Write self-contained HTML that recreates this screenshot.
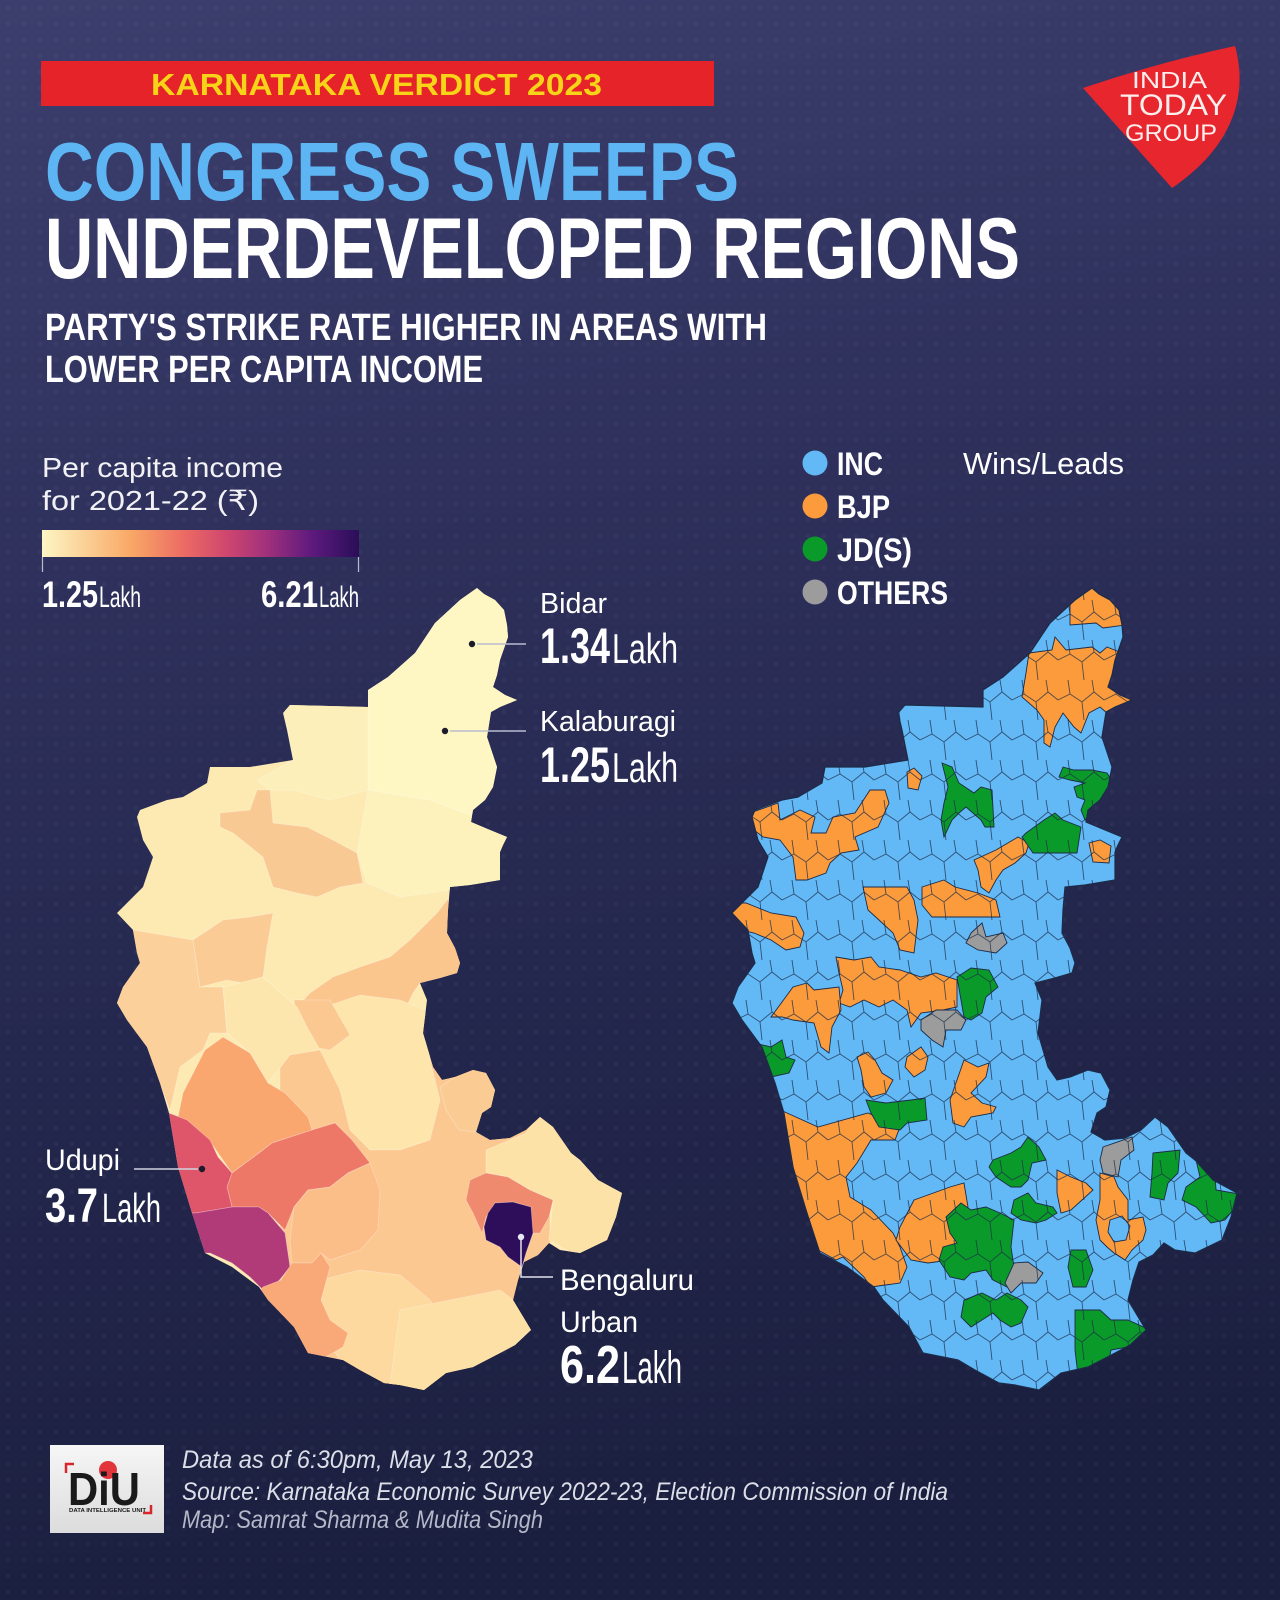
<!DOCTYPE html>
<html><head><meta charset="utf-8"><style>
html,body{margin:0;padding:0;background:#262851;}
svg{display:block;}
text{font-family:"Liberation Sans","DejaVu Sans",sans-serif;}
</style></head><body>
<svg width="1280" height="1600" viewBox="0 0 1280 1600" xmlns="http://www.w3.org/2000/svg">
<defs>
<linearGradient id="bg" x1="0" y1="0" x2="0.15" y2="1">
<stop offset="0" stop-color="#3c3e6d"/><stop offset="0.3" stop-color="#31335f"/><stop offset="0.6" stop-color="#262950"/><stop offset="1" stop-color="#1b1f3f"/>
</linearGradient>
<linearGradient id="scale" x1="0" y1="0" x2="1" y2="0">
<stop offset="0" stop-color="#fdf6c4"/><stop offset="0.28" stop-color="#f9a866"/><stop offset="0.45" stop-color="#ec6a64"/><stop offset="0.58" stop-color="#d0476e"/><stop offset="0.7" stop-color="#a5327c"/><stop offset="0.85" stop-color="#5e1a7e"/><stop offset="1" stop-color="#2a0e58"/>
</linearGradient>
<linearGradient id="diu" x1="0" y1="0" x2="0" y2="1"><stop offset="0" stop-color="#f6f6f6"/><stop offset="1" stop-color="#dcdcdc"/></linearGradient>
<pattern id="dots" width="16" height="16" patternUnits="userSpaceOnUse"><circle cx="8" cy="8" r="2.2" fill="#ffffff" fill-opacity="0.035"/></pattern>
<pattern id="mesh" width="46" height="40" patternUnits="userSpaceOnUse">
<path d="M0,20 L12,14 L24,22 L36,12 L46,20 M12,14 L10,0 M24,22 L26,40 M36,12 L34,0" fill="none" stroke="#1c2b48" stroke-width="0.9"/>
</pattern>
<path id="kout" d="M477,588 L484,594 L495,600 L504,610 L507,625 L508,637 L500,660 L497,675 L493,687 L505,695 L517,700 L500,707 L491,712 L487,737 L493,755 L497,767 L493,787 L485,800 L473,810 L471,822 L490,830 L507,837 L503,845 L500,852 L500,880 L470,885 L450,887 L448,910 L447,933 L455,948 L460,963 L457,973 L440,978 L420,983 L427,1000 L423,1033 L428,1050 L433,1067 L442,1080 L455,1077 L473,1070 L486,1073 L495,1090 L491,1107 L482,1113 L476,1132 L490,1140 L510,1138 L526,1130 L540,1117 L553,1127 L571,1153 L580,1160 L598,1180 L622,1193 L616,1217 L607,1240 L580,1253 L560,1250 L549,1243 L538,1255 L524,1262 L518,1280 L513,1300 L531,1330 L515,1345 L500,1353 L473,1367 L446,1373 L424,1390 L400,1385 L384,1383 L360,1370 L343,1360 L308,1353 L294,1327 L268,1300 L259,1287 L232,1267 L205,1253 L192,1213 L178,1167 L169,1113 L160,1083 L147,1047 L127,1020 L117,1003 L123,987 L140,963 L137,953 L133,930 L117,913 L127,903 L143,887 L153,857 L143,840 L137,817 L140,810 L167,800 L183,797 L207,783 L210,767 L250,767 L293,760 L287,730 L283,713 L290,705 L368,707 L368,690 L388,677 L415,653 L435,623 L460,600 Z"/>
<clipPath id="lclip"><use href="#kout"/></clipPath>
<clipPath id="rclip"><use href="#kout" transform="translate(615,0)"/></clipPath>
</defs>

<rect width="1280" height="1600" fill="url(#bg)"/>
<rect width="1280" height="1600" fill="url(#dots)"/>

<!-- Header -->
<rect x="41" y="61" width="673" height="45" fill="#e62329"/>
<text x="151" y="95" font-size="31" font-weight="bold" fill="#f7d417" textLength="451" lengthAdjust="spacingAndGlyphs">KARNATAKA VERDICT 2023</text>
<text x="45" y="200" font-size="83" font-weight="bold" fill="#5db5f3" textLength="694" lengthAdjust="spacingAndGlyphs">CONGRESS SWEEPS</text>
<text x="45" y="278" font-size="86" font-weight="bold" fill="#ffffff" textLength="975" lengthAdjust="spacingAndGlyphs">UNDERDEVELOPED REGIONS</text>
<text x="45" y="340" font-size="38" font-weight="bold" fill="#ffffff" textLength="722" lengthAdjust="spacingAndGlyphs">PARTY'S STRIKE RATE HIGHER IN AREAS WITH</text>
<text x="45" y="382" font-size="38" font-weight="bold" fill="#ffffff" textLength="438" lengthAdjust="spacingAndGlyphs">LOWER PER CAPITA INCOME</text>

<!-- Logo -->
<path d="M1083,88 Q1160,62 1235,46 C1250,100 1228,150 1172,188 Z" fill="#e8262d"/>
<text x="1132" y="88" font-size="23" fill="#fdeeee" textLength="75" lengthAdjust="spacingAndGlyphs">INDIA</text>
<text x="1120" y="115" font-size="30" fill="#fdeeee" textLength="107" lengthAdjust="spacingAndGlyphs">TODAY</text>
<text x="1125" y="141" font-size="24" fill="#fdeeee" textLength="92" lengthAdjust="spacingAndGlyphs">GROUP</text>

<!-- Left legend -->
<text x="42" y="477" font-size="28" fill="#f2f2f6" textLength="241" lengthAdjust="spacingAndGlyphs">Per capita income</text>
<text x="42" y="510" font-size="28" fill="#f2f2f6" textLength="217" lengthAdjust="spacingAndGlyphs">for 2021-22 (₹)</text>
<rect x="42" y="530" width="317" height="27" fill="url(#scale)"/>
<line x1="42.5" y1="557" x2="42.5" y2="572" stroke="#b8bccf" stroke-width="1.2"/>
<line x1="358.5" y1="557" x2="358.5" y2="572" stroke="#b8bccf" stroke-width="1.2"/>
<text x="42" y="607" font-size="37" font-weight="bold" fill="#fff" textLength="56" lengthAdjust="spacingAndGlyphs">1.25</text>
<text x="99" y="607" font-size="30" fill="#fff" textLength="42" lengthAdjust="spacingAndGlyphs">Lakh</text>
<text x="261" y="607" font-size="37" font-weight="bold" fill="#fff" textLength="57" lengthAdjust="spacingAndGlyphs">6.21</text>
<text x="319" y="607" font-size="30" fill="#fff" textLength="40" lengthAdjust="spacingAndGlyphs">Lakh</text>

<!-- Left map -->
<g clip-path="url(#lclip)" stroke="#ffffff" stroke-opacity="0.3" stroke-width="0.8">
<rect x="100" y="570" width="540" height="840" fill="#fdeab3" stroke="none"/>
<polygon fill="#fef7c4" points="368,690 388,677 415,653 435,623 460,600 477,585 520,600 520,700 505,800 470,815 430,800 368,790"/>
<polygon fill="#fdf1bc" points="368,790 430,800 470,815 520,830 520,885 450,890 400,897 367,883 357,853"/>
<polygon fill="#fdefb9" points="283,700 368,700 368,790 330,800 293,790 270,790 257,780 293,760"/>
<polygon fill="#f9c994" points="220,813 250,810 257,790 270,790 273,823 307,827 333,840 357,853 363,883 340,887 317,897 297,893 273,887 263,857 233,833 220,827"/>
<polygon fill="#fbd09a" points="100,930 133,930 193,940 200,987 223,987 227,1033 210,1033 203,1050 180,1067 170,1110 153,1067 100,1003"/>
<polygon fill="#fbcb96" points="193,940 223,920 250,917 273,913 267,947 263,977 243,983 227,980 200,987"/>
<polygon fill="#fbc58e" points="437,913 447,900 470,890 470,990 453,977 420,983 413,993 400,1020 390,1033 373,1043 353,1033 340,1050 320,1050 307,1027 297,1007 310,993 333,977 360,967 390,957 410,940 420,930"/>
<rect x="280" y="1040" width="270" height="360" fill="#fcc892"/>
<polygon fill="#fde5ac" points="330,1005 360,995 400,1000 425,1010 430,1060 440,1100 430,1140 400,1150 370,1150 350,1130 340,1090 320,1050"/>
<polygon fill="#fbc891" points="294,1000 330,1000 350,1035 330,1050 300,1045"/>
<polygon fill="#fde6ae" points="223,987 263,977 297,1007 307,1027 320,1050 290,1055 268,1083 250,1053 227,1033"/>
<polygon fill="#fdd9a0" points="321,1280 360,1270 400,1275 430,1300 446,1330 440,1390 380,1390 340,1360 320,1330"/>
<polygon fill="#fde0a6" points="400,1310 450,1300 500,1290 540,1320 500,1360 430,1395 390,1385"/>
<polygon fill="#f9a66f" points="183,1093 205,1050 223,1037 250,1053 268,1083 285,1093 308,1117 312,1130 272,1143 259,1153 232,1173 214,1147 178,1117"/>
<polygon fill="#ed7868" points="232,1173 259,1153 272,1143 312,1130 335,1123 352,1140 370,1163 348,1173 330,1187 308,1190 294,1207 285,1230 268,1213 259,1207 232,1207 227,1187"/>
<polygon fill="#fcbe88" points="294,1207 308,1190 330,1187 348,1173 370,1163 380,1190 378,1230 360,1250 330,1260 321,1253 312,1263 292,1263 290,1240"/>
<polygon fill="#df566b" points="150,1105 169,1113 187,1120 210,1140 218,1157 232,1173 227,1187 232,1207 196,1213 150,1213"/>
<polygon fill="#b13a78" points="150,1213 196,1213 232,1207 259,1207 268,1213 285,1233 290,1267 277,1283 263,1290 250,1277 232,1263 210,1253 150,1253"/>
<polygon fill="#f9a878" points="263,1287 281,1280 292,1263 312,1263 321,1253 330,1267 321,1300 330,1320 348,1333 343,1347 312,1365 300,1340 250,1300"/>
<polygon fill="#fbcb94" points="455,1077 473,1066 490,1070 500,1090 495,1107 485,1113 476,1132 459,1130 446,1110 440,1087"/>
<polygon fill="#fde2a7" points="486,1150 526,1133 540,1112 553,1125 571,1153 580,1160 598,1180 630,1193 620,1217 610,1245 580,1258 549,1240 553,1200 530,1190 508,1177 486,1173"/>
<polygon fill="#f08a6e" points="486,1173 508,1177 530,1190 553,1200 549,1217 540,1233 531,1233 531,1207 513,1202 495,1203 486,1217 482,1233 473,1213 466,1200 470,1180"/>
<polygon fill="#2e0d5a" points="495,1203 513,1202 531,1207 533,1233 526,1253 522,1267 508,1257 500,1247 486,1240 484,1227 488,1213"/>
</g>

<!-- Left annotations -->
<circle cx="472" cy="644" r="3.2" fill="#1b1b2b"/>
<line x1="477" y1="644" x2="526" y2="644" stroke="#b8bccf" stroke-width="1.5"/>
<text x="540" y="613" font-size="29" fill="#fff" textLength="67" lengthAdjust="spacingAndGlyphs">Bidar</text>
<text x="540" y="663" font-size="50" font-weight="bold" fill="#fff" textLength="70" lengthAdjust="spacingAndGlyphs">1.34</text>
<text x="612" y="663" font-size="42" fill="#fff" textLength="66" lengthAdjust="spacingAndGlyphs">Lakh</text>

<circle cx="445" cy="731" r="3.2" fill="#1b1b2b"/>
<line x1="450" y1="731" x2="526" y2="731" stroke="#b8bccf" stroke-width="1.5"/>
<text x="540" y="731" font-size="29" fill="#fff" textLength="136" lengthAdjust="spacingAndGlyphs">Kalaburagi</text>
<text x="540" y="782" font-size="50" font-weight="bold" fill="#fff" textLength="70" lengthAdjust="spacingAndGlyphs">1.25</text>
<text x="612" y="782" font-size="42" fill="#fff" textLength="66" lengthAdjust="spacingAndGlyphs">Lakh</text>

<circle cx="202" cy="1169" r="3.2" fill="#1b1b2b"/>
<line x1="134" y1="1169" x2="198" y2="1169" stroke="#d0d3e0" stroke-width="1.5"/>
<text x="45" y="1170" font-size="30" fill="#fff" textLength="75" lengthAdjust="spacingAndGlyphs">Udupi</text>
<text x="45" y="1222" font-size="48" font-weight="bold" fill="#fff" textLength="53" lengthAdjust="spacingAndGlyphs">3.7</text>
<text x="102" y="1222" font-size="41" fill="#fff" textLength="59" lengthAdjust="spacingAndGlyphs">Lakh</text>

<circle cx="521" cy="1237" r="3.2" fill="#e8e8f2"/>
<polyline points="521,1240 521,1277 553,1277" fill="none" stroke="#e0e2ec" stroke-width="1.5"/>
<text x="560" y="1290" font-size="30" fill="#fff" textLength="134" lengthAdjust="spacingAndGlyphs">Bengaluru</text>
<text x="560" y="1332" font-size="30" fill="#fff" textLength="78" lengthAdjust="spacingAndGlyphs">Urban</text>
<text x="560" y="1383" font-size="54" font-weight="bold" fill="#fff" textLength="60" lengthAdjust="spacingAndGlyphs">6.2</text>
<text x="622" y="1383" font-size="45" fill="#fff" textLength="60" lengthAdjust="spacingAndGlyphs">Lakh</text>

<!-- Right legend -->
<circle cx="815" cy="463" r="12.5" fill="#63b9f6"/>
<circle cx="815" cy="506" r="12.5" fill="#fb9b3c"/>
<circle cx="815" cy="549" r="12.5" fill="#0a9a2a"/>
<circle cx="815" cy="592" r="12.5" fill="#9c9c9c"/>
<text x="837" y="475" font-size="32" font-weight="bold" fill="#fff" textLength="46" lengthAdjust="spacingAndGlyphs">INC</text>
<text x="837" y="518" font-size="32" font-weight="bold" fill="#fff" textLength="53" lengthAdjust="spacingAndGlyphs">BJP</text>
<text x="837" y="561" font-size="32" font-weight="bold" fill="#fff" textLength="75" lengthAdjust="spacingAndGlyphs">JD(S)</text>
<text x="837" y="604" font-size="32" font-weight="bold" fill="#fff" textLength="111" lengthAdjust="spacingAndGlyphs">OTHERS</text>
<text x="963" y="474" font-size="31" fill="#fff" textLength="161" lengthAdjust="spacingAndGlyphs">Wins/Leads</text>

<!-- Right map -->
<g clip-path="url(#rclip)" stroke="#1c2b48" stroke-width="0.9">
<rect x="700" y="570" width="560" height="840" fill="#63b9f6" stroke="none"/>
<g fill="#fb9b3c">
<polygon points="1070,625 1070,575 1140,575 1140,623 1103,628 1096,623"/>
<polygon points="1029,653 1052,650 1055,637 1066,650 1092,647 1100,653 1107,647 1122,653 1118,673 1113,687 1140,702 1111,710 1107,713 1100,707 1089,713 1081,733 1074,727 1063,713 1055,727 1050,747 1044,743 1044,720 1037,710 1022,697 1026,673"/>
<polygon points="907,772 914,768 922,776 918,790 908,788"/>
<polygon points="1089,843 1100,840 1111,846 1109,863 1093,862"/>
<polygon points="974,860 996,850 1018,837 1029,843 1026,853 1015,863 1003,870 996,880 989,893 981,887 978,870"/>
<polygon points="922,887 944,880 955,887 978,893 996,900 1000,917 932,917 922,905"/>
<polygon points="863,887 907,887 914,900 918,920 914,953 900,950 893,933 879,920 868,910"/>
<polygon points="750,813 778,803 780,820 800,810 815,817 811,833 826,833 833,817 855,813 870,790 885,790 889,803 878,827 855,837 859,850 841,853 830,863 826,873 807,880 796,880 793,857 780,840 763,837 750,827"/>
<polygon points="720,903 746,903 771,913 796,917 804,933 800,947 786,950 771,940 754,933 720,925"/>
<polygon points="836,957 854,960 871,957 879,967 900,970 921,977 936,973 957,980 957,1007 943,1010 921,1013 911,1027 907,1010 893,1000 879,1007 864,1000 850,1007 839,1003 843,990 839,973"/>
<polygon points="771,1017 793,987 807,983 814,990 839,987 841,1010 832,1027 829,1053 821,1047 814,1023 793,1020 782,1017"/>
<polygon points="857,1057 868,1052 875,1060 882,1073 893,1080 886,1093 871,1097 864,1087 861,1070"/>
<polygon points="907,1057 921,1047 928,1057 925,1070 914,1077 905,1067"/>
<polygon points="964,1060 978,1067 989,1063 986,1077 971,1093 982,1103 996,1107 993,1113 971,1117 964,1127 953,1123 950,1100 957,1080"/>
<polygon points="770,1105 787,1113 818,1127 868,1113 900,1127 895,1140 871,1140 857,1163 846,1177 850,1197 871,1210 893,1233 900,1247 907,1267 900,1283 871,1287 864,1277 843,1257 836,1260 818,1250 790,1240"/>
<polygon points="914,1200 950,1187 964,1183 968,1207 957,1217 950,1233 961,1243 950,1260 928,1263 911,1260 896,1240 900,1227"/>
<polygon points="1057,1170 1071,1177 1086,1183 1093,1190 1082,1200 1071,1210 1061,1213 1057,1193"/>
<polygon points="1100,1173 1114,1177 1118,1187 1128,1200 1128,1220 1143,1217 1146,1230 1143,1240 1132,1250 1125,1260 1114,1253 1107,1247 1100,1240 1096,1220 1100,1200"/>
</g>
<polygon fill="#63b9f6" points="1110,1220 1122,1216 1130,1226 1126,1240 1114,1242 1108,1232"/>
<g fill="#0a9a2a">
<polygon points="942,763 952,767 959,783 974,793 981,787 992,790 994,827 985,827 981,820 966,807 959,813 952,820 944,837 941,820 944,803 948,787"/>
<polygon points="1063,767 1074,770 1092,770 1107,773 1120,793 1107,807 1100,820 1085,820 1081,810 1085,800 1077,797 1074,787 1085,783 1070,780 1059,777"/>
<polygon points="1026,833 1044,820 1055,813 1063,820 1081,827 1077,853 1055,853 1033,853 1022,837"/>
<polygon points="957,977 971,968 989,970 998,987 986,997 982,1013 971,1020 964,1017 961,1000"/>
<polygon points="754,1043 771,1047 782,1040 786,1057 795,1060 789,1073 771,1077 768,1080 740,1060 740,1040"/>
<polygon points="866,1100 886,1103 911,1100 925,1098 927,1120 907,1123 900,1130 879,1127 871,1113"/>
<polygon points="946,1217 961,1203 971,1210 986,1207 1000,1213 1014,1220 1011,1247 1014,1267 1007,1287 993,1280 986,1270 971,1273 964,1280 950,1277 939,1260 943,1247 957,1243 950,1233"/>
<polygon points="993,1160 1011,1153 1021,1147 1028,1137 1039,1147 1046,1160 1032,1163 1028,1180 1021,1187 1011,1187 996,1177 989,1167"/>
<polygon points="1014,1200 1028,1193 1036,1203 1053,1207 1057,1213 1046,1220 1036,1223 1021,1220 1011,1213"/>
<polygon points="964,1300 982,1293 996,1300 1007,1293 1021,1300 1028,1307 1021,1323 1011,1327 1000,1320 993,1313 982,1320 971,1327 961,1317"/>
<polygon points="1071,1250 1086,1250 1093,1270 1086,1287 1073,1287 1068,1267"/>
<polygon points="1075,1310 1100,1310 1111,1320 1128,1320 1150,1330 1128,1347 1111,1350 1107,1370 1078,1375 1075,1350"/>
<polygon points="1153,1153 1180,1150 1178,1173 1168,1183 1164,1200 1150,1197 1152,1173"/>
<polygon points="1196,1160 1214,1158 1216,1190 1245,1195 1225,1220 1211,1223 1196,1207 1182,1200 1186,1187 1200,1177"/>
</g>
<g fill="#9c9c9c">
<polygon points="971,933 982,923 986,937 1003,933 1007,943 996,953 978,950 966,943"/>
<polygon points="921,1020 936,1010 957,1010 966,1020 961,1030 946,1030 943,1047 932,1040 921,1030"/>
<polygon points="1014,1263 1028,1262 1043,1273 1036,1283 1021,1283 1011,1293 1005,1283"/>
<polygon points="1103,1147 1132,1137 1134,1150 1121,1160 1118,1177 1103,1173 1100,1160"/>
</g>
<rect x="700" y="570" width="560" height="840" fill="url(#mesh)" stroke="none" opacity="0.75"/>
</g>
<use href="#kout" transform="translate(615,0)" fill="none" stroke="#1c2b48" stroke-width="1.2"/>

<!-- Footer -->
<rect x="50" y="1445" width="114" height="88" fill="url(#diu)"/>
<path d="M66,1473 L66,1464 L74,1464" fill="none" stroke="#d8262c" stroke-width="2.5"/>
<path d="M151,1505 L151,1513 L143,1513" fill="none" stroke="#d8262c" stroke-width="2.5"/>
<circle cx="108" cy="1470" r="9" fill="#e0363c"/>
<text x="68" y="1505" font-size="46" font-weight="bold" fill="#1a1a1a" textLength="72" lengthAdjust="spacingAndGlyphs">DiU</text>
<text x="69" y="1512" font-size="5.5" font-weight="bold" fill="#1a1a1a" textLength="77" lengthAdjust="spacingAndGlyphs">DATA INTELLIGENCE UNIT</text>
<text x="182" y="1468" font-size="25" font-style="italic" fill="#dcdee8" textLength="351" lengthAdjust="spacingAndGlyphs">Data as of 6:30pm, May 13, 2023</text>
<text x="182" y="1500" font-size="25" font-style="italic" fill="#dcdee8" textLength="766" lengthAdjust="spacingAndGlyphs">Source: Karnataka Economic Survey 2022-23, Election Commission of India</text>
<text x="182" y="1528" font-size="25" font-style="italic" fill="#b4b8c8" textLength="361" lengthAdjust="spacingAndGlyphs">Map: Samrat Sharma &amp; Mudita Singh</text>
</svg>
</body></html>
